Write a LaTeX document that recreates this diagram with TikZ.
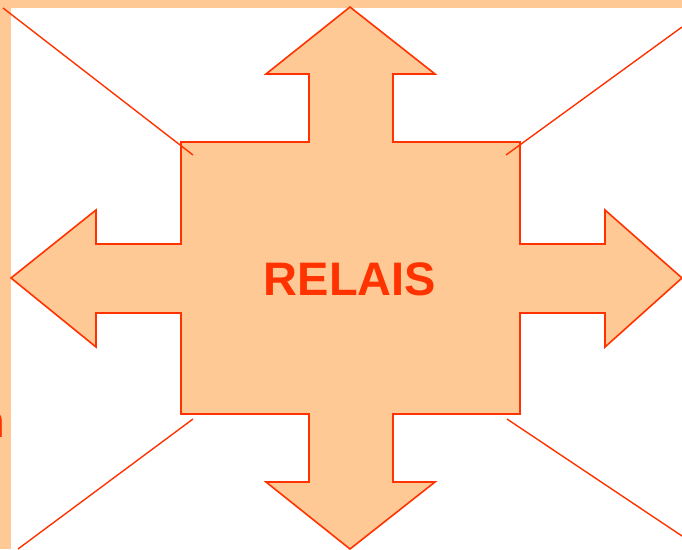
\documentclass[tikz,border=0pt]{standalone}
\usepackage{fontspec}
\setmainfont{Liberation Sans}
\definecolor{peach}{HTML}{FFC995}
\definecolor{redor}{HTML}{FF3300}
\begin{document}
\begin{tikzpicture}[x=1pt,y=-1pt,
  bar/.style={fill=peach,draw=none},
  cross/.style={fill=peach,draw=redor,line width=1.6pt,line join=miter},
  ray/.style={draw=redor,line width=1.4pt},
  label/.style={text=redor,font=\fontsize{47}{47}\selectfont\bfseries,inner sep=0pt}]
\useasboundingbox (0,0) rectangle (682,549);
% bars
\fill[bar] (0,0) rectangle (682,8);
\fill[bar] (0,0) rectangle (11,549);
% cross of arrows
\draw[cross] (181,142) -- (309,142) -- (309,74) -- (266,74) -- (350,7) -- (435,74) -- (393,74) -- (393,142)
  -- (520,142) -- (520,244) -- (605,244) -- (605,210) -- (682,278) -- (605,347) -- (605,313) -- (520,313)
  -- (520,414) -- (393,414) -- (393,482) -- (435,482) -- (350,549) -- (266,482) -- (309,482) -- (309,414)
  -- (181,414) -- (181,313) -- (96,313) -- (96,347) -- (11,278) -- (96,210) -- (96,244) -- (181,244) -- cycle;
% rays
\coordinate (tl1) at (3,8);   \coordinate (tl2) at (193,155);
\coordinate (tr1) at (682,27); \coordinate (tr2) at (506,155);
\coordinate (bl1) at (18,549); \coordinate (bl2) at (193,419);
\coordinate (br1) at (682,536); \coordinate (br2) at (507,419);
\draw[ray] (tl1) -- (tl2);
\draw[ray] (tr1) -- (tr2);
\draw[ray] (bl1) -- (bl2);
\draw[ray] (br1) -- (br2);
% text
\node[label] (relais) at (350,279) {RELAIS};
\node[label,anchor=base east] (frag) at (5,437) {n};
\end{tikzpicture}
\end{document}
